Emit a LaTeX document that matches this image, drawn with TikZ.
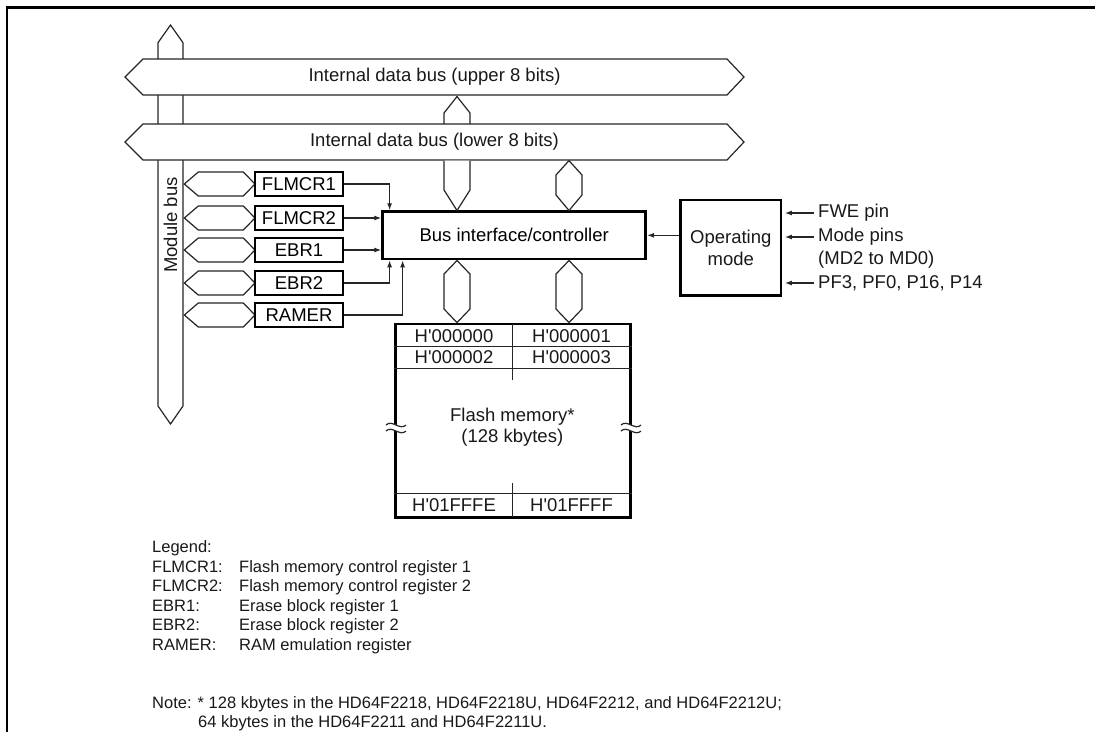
\documentclass[tikz,border=0pt]{standalone}
\usepackage{fontspec}
\setmainfont{Liberation Sans}
\usetikzlibrary{arrows.meta}
\newcommand\brkmark[2]{%
  \fill[white] (#1-10,#2-3) .. controls (#1-4,#2-9) and (#1+4,#2+3) .. (#1+10,#2-3)
     -- (#1+10,#2+3) .. controls (#1+4,#2+9) and (#1-4,#2-3) .. (#1-10,#2+3) -- cycle;
  \draw[thinline] (#1-10,#2-3) .. controls (#1-4,#2-9) and (#1+4,#2+3) .. (#1+10,#2-3);
  \draw[thinline] (#1-10,#2+3) .. controls (#1-4,#2-3) and (#1+4,#2+9) .. (#1+10,#2+3);}
\newcommand\hq{\textquotesingle}
\begin{document}
\begin{tikzpicture}[x=1pt,y=-1pt,
  font=\fontsize{18.5}{22}\selectfont,
  thinline/.style={line width=1.2pt, line join=miter, draw=black!85},
  thickbox/.style={draw, line width=2.8pt, inner sep=0pt, fill=white},
  regbox/.style={thickbox, minimum width=88pt, minimum height=24pt},
  conn/.style={line width=1.2pt, draw=black!85, -{Latex[length=7pt,width=5pt]}},
  txt/.style={inner sep=0pt, text=black!90},
  legtxt/.style={txt, anchor=base west, font=\fontsize{16.5}{19.6}\selectfont},
]
\useasboundingbox (0,0) rectangle (1095,732);

% frame
\draw[line width=2.5pt] (5.75,7.5) -- (1095,7.5);
\draw[line width=2.5pt] (7,6.25) -- (7,732);

% module bus (vertical)
\draw[thinline, fill=white] (158,406) -- (158,42.7) -- (170.5,25) -- (183,42.7) -- (183,406) -- (170.5,424) -- cycle;
\node[txt, rotate=90] (modbus) at (170.5,225) {Module bus};

% upper bus
\draw[thinline, fill=white] (125,77) -- (143,59) -- (727,59) -- (744,77) -- (727,95) -- (143,95) -- cycle;
\node[txt] (ubus) at (434.5,77) {Internal data bus (upper 8 bits)};

% connector upper -> lower
\draw[thinline, fill=white] (444,126) -- (444,113) -- (457,96.5) -- (470,113) -- (470,126);

% lower bus
\draw[thinline, fill=white] (125,142) -- (143,124) -- (727,124) -- (744,142) -- (727,160) -- (143,160) -- cycle;
\node[txt] (lbus) at (434.5,142) {Internal data bus (lower 8 bits)};

% bus interface
\node[thickbox, minimum width=263pt, minimum height=47.3pt] (bic) at (514.2,235.3) {Bus interface/controller};

% connectors lower bus -> bic
\draw[thinline, fill=white] (444,160.6) -- (444,190) -- (457,210.5) -- (470,190) -- (470,160.6);
\draw[thinline, fill=white] (569,160.6) -- (582,175) -- (582,195) -- (569,210.5) -- (556,195) -- (556,175) -- cycle;

% connectors bic -> memory
\draw[thinline, fill=white] (457,260.5) -- (470,274) -- (470,309) -- (457,322.6) -- (444,309) -- (444,274) -- cycle;
\draw[thinline, fill=white] (569,260.5) -- (582,274) -- (582,309) -- (569,322.6) -- (556,309) -- (556,274) -- cycle;

% registers
\foreach \n/\t/\y in {flmcr1/FLMCR1/184, flmcr2/FLMCR2/218, ebr1/EBR1/250, ebr2/EBR2/283, ramer/RAMER/315}{
  \draw[thinline, fill=white] (184.3,\y) -- (198.3,\y-12) -- (243.3,\y-12) -- (255,\y) -- (243.3,\y+12) -- (198.3,\y+12) -- cycle;
  \node[regbox] (\n) at (299,\y) {\t};
}
\draw[conn] (flmcr1.east) -| ([xshift=8.3pt]bic.north west);
\draw[conn] (flmcr2.east) -- (flmcr2.east -| bic.west);
\draw[conn] (ebr1.east) -- (ebr1.east -| bic.west);
\draw[conn] (ebr2.east) -| ([xshift=8.3pt]bic.south west);
\draw[conn] (ramer.east) -| ([xshift=21.3pt]bic.south west);

% operating mode
\node[thickbox, minimum width=100.3pt, minimum height=95.7pt, align=center, text=black!90] (opm) at (730.8,247.8) {Operating\\mode};
\draw[conn] (opm.west |- bic.east) -- (bic.east);

\node[txt, anchor=west] (fwe) at (818,213) {FWE pin};
\node[txt, anchor=west] (mode) at (818,237) {Mode pins};
\node[txt, anchor=west] (md) at (818,260) {(MD2 to MD0)};
\node[txt, anchor=west] (pf) at (818,283) {PF3, PF0, P16, P14};
\foreach \s in {fwe,mode,pf}{
  \draw[conn] ([xshift=-4pt]\s.west) -- ([xshift=2.5pt]\s.west -| opm.east);
}

% flash memory
\node[thickbox, minimum width=235pt, minimum height=193.3pt] (mem) at (513.3,420.7) {};
\draw[thinline] (mem.west |- 0,346.7) -- (mem.east |- 0,346.7);
\draw[thinline] (mem.west |- 0,368.3) -- (mem.east |- 0,368.3);
\draw[thinline] (mem.west |- 0,493.3) -- (mem.east |- 0,493.3);
\draw[thinline] (512.3,324) -- (512.3,379.5);
\draw[thinline] (512.3,483) -- (512.3,517);
\node[txt] (c00) at (454,336) {H\hq 000000};
\node[txt] (c01) at (571.5,336) {H\hq 000001};
\node[txt] (c02) at (454,357.5) {H\hq 000002};
\node[txt] (c03) at (571.5,357.5) {H\hq 000003};
\node[txt] (cfe) at (454,505.5) {H\hq 01FFFE};
\node[txt] (cff) at (571.5,505.5) {H\hq 01FFFF};
\node[txt, align=center, font=\fontsize{18.5}{20.5}\selectfont] (fm) at (512.3,427) {Flash memory*\\(128 kbytes)};
\brkmark{396}{428}
\brkmark{631}{428}

% legend
\node[legtxt] (leg) at (152,552) {Legend:};
\foreach \l/\d/\y in {FLMCR1:/Flash memory control register 1/572, FLMCR2:/Flash memory control register 2/591.5, EBR1:/Erase block register 1/611, EBR2:/Erase block register 2/630.5, RAMER:/RAM emulation register/650}{
  \node[legtxt] at (152,\y) {\l};
  \node[legtxt] at (239,\y) {\d};
}
\node[legtxt] (note1) at (152,708) {Note: * 128 kbytes in the HD64F2218, HD64F2218U, HD64F2212, and HD64F2212U;};
\node[legtxt] (note2) at (198,727.5) {64 kbytes in the HD64F2211 and HD64F2211U.};
\end{tikzpicture}
\end{document}
